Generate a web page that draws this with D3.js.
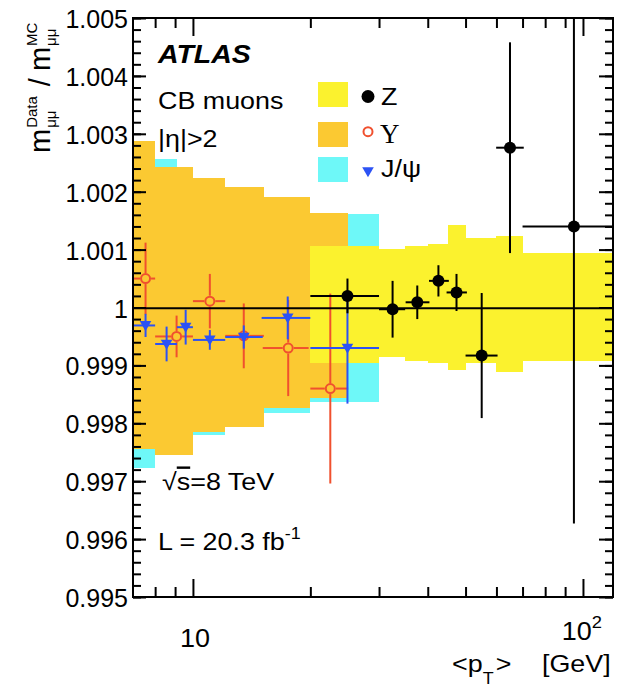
<!DOCTYPE html>
<meta charset="utf-8">
<head>
  <title>Muon mass scale ratio</title>
</head>

<style>
body { margin: 0; background: #fff; }
text { font-family: "Liberation Sans", Arial, sans-serif; fill: #000; }
.band { shape-rendering: crispEdges; }
</style>

<body>
  <svg width="631" height="692"></svg>

  <script src="https://cdnjs.cloudflare.com/ajax/libs/d3/7.8.5/d3.min.js"></script>
  <script>
// bands (systematic), bin edges in GeV
var zEdges = [20, 30, 35, 40, 45, 50, 60, 70, 120]
var zBandLo = [0.99905, 0.99914, 0.99908, 0.99905, 0.99892, 0.99904, 0.99888, 0.99908]
var zBandHi = [1.00107, 1.00101, 1.00107, 1.00110, 1.00143, 1.00120, 1.00124, 1.00094]

var upsEdges = [7, 8, 10, 12.1, 15.2, 20, 25]
var upsBandLo = [0.99755, 0.99745, 0.99785, 0.99794, 0.99826, 0.99843]
var upsBandHi = [1.00288, 1.00243, 1.00223, 1.00208, 1.00191, 1.00163]

var jpsiEdges = [7, 8, 9.1, 10, 12.1, 15.1, 20, 30]
var jpsiBandLo = [0.99722, 0.99754, 0.99763, 0.99779, 0.99806, 0.99817, 0.99836]
var jpsiBandHi = [1.00272, 1.00256, 1.00237, 1.00212, 1.00194, 1.00177, 1.00162]

// data points
var zPt  = [24.9, 32.5, 37.6, 42.6, 47.4, 55.0, 65.0, 94.8]
var zVal = [1.00020, 0.99997, 1.00009, 1.00046, 1.00026, 0.99917, 1.00276, 1.00140]
var zErr = [0.00030, 0.00049, 0.00029, 0.00027, 0.00032, 0.00108, 0.00182, 0.00513]
var zXlo = [20, 30, 35.1, 40.3, 44.7, 50, 59.9, 70]
var zXhi = [30, 35, 40.4, 45.3, 50.4, 60.4, 70.5, 125]

var upsPt  = [7.56, 9.08, 11.05, 13.5, 17.55, 22.5]
var upsVal = [1.00050, 0.99950, 1.00011, 0.99951, 0.99930, 0.99860]
var upsErr = [0.00062, 0.00036, 0.00047, 0.00056, 0.00083, 0.00164]
var upsXlo = [7.0, 8, 10, 12.1, 15.1, 20]
var upsXhi = [8, 10, 12.1, 15.2, 19.8, 25]

var jpsiPt  = [7.56, 8.56, 9.58, 11.05, 13.5, 17.5, 24.9]
var jpsiVal = [0.99969, 0.99937, 0.99966, 0.99944, 0.99949, 0.99982, 0.99930]
var jpsiErr = [0.00020, 0.00030, 0.00030, 0.00017, 0.00020, 0.00037, 0.00096]
var jpsiXlo = [7.0, 8, 9.1, 10, 12.1, 15, 20]
var jpsiXhi = [8, 9.1, 10, 12.1, 15.1, 20, 30]

var yMajor = d3.range(0, 11).map(function(i) { return 0.995 + i * 0.001 })
var yMinor = d3.range(0, 51).map(function(i) { return 0.995 + i * 0.0002 })
var xMajor = [10, 100]
var xMinor = [8, 9, 20, 30, 40, 50, 60, 70, 80, 90]

var colZ = '#fbf22e', colUps = '#fbc932', colJpsi = '#6ef8f8'
var redM = '#f0502e', blueM = '#2c52f4'

var L = 133, R = 613, T = 18, B = 597
var SX = 1.12

var svg = d3.select('svg')
var x = d3.scaleLog().domain([7.02, 119.4]).range([L, R])
var y = d3.scaleLinear().domain([0.995, 1.005]).range([B, T])

svg.append('clipPath').attr('id', 'frame')
  .append('rect').attr('x', L).attr('y', T).attr('width', R - L).attr('height', B - T)

var plot = svg.append('g').attr('clip-path', 'url(#frame)')

function band(edges, lo, hi, color) {
  plot.append('g').selectAll('rect')
    .data(lo)
    .enter().append('rect')
    .attr('class', 'band')
    .attr('x', function(d, i) { return x(edges[i]) })
    .attr('width', function(d, i) { return x(edges[i + 1]) - x(edges[i]) })
    .attr('y', function(d, i) { return y(hi[i]) })
    .attr('height', function(d, i) { return y(lo[i]) - y(hi[i]) })
    .attr('fill', color)
}
band(jpsiEdges, jpsiBandLo, jpsiBandHi, colJpsi)
band(upsEdges, upsBandLo, upsBandHi, colUps)
band(zEdges, zBandLo, zBandHi, colZ)

// error bars, with a gap round open markers
function errors(pt, val, err, xlo, xhi, color, gap) {
  var g = plot.append('g').attr('stroke', color).attr('stroke-width', 2)
  pt.forEach(function(p, i) {
    var cx = x(p), cy = y(val[i])
    var segs = [
      [x(xlo[i]), cy, cx - gap, cy],
      [cx + gap, cy, x(xhi[i]), cy],
      [cx, y(val[i] + err[i]), cx, cy - gap],
      [cx, cy + gap, cx, y(val[i] - err[i])]
    ]
    segs.forEach(function(s) {
      if (Math.abs(s[2] - s[0]) + Math.abs(s[3] - s[1]) > 0.5 &&
          (s[2] >= s[0]) && (s[3] >= s[1]))
        g.append('line').attr('x1', s[0]).attr('y1', s[1]).attr('x2', s[2]).attr('y2', s[3])
    })
  })
  return g
}

var tri = d3.symbol().type(d3.symbolTriangle).size(58)

errors(upsPt, upsVal, upsErr, upsXlo, upsXhi, redM, 5.5)
plot.append('g').selectAll('circle')
  .data(upsPt)
  .enter().append('circle')
  .attr('cx', function(d) { return x(d) })
  .attr('cy', function(d, i) { return y(upsVal[i]) })
  .attr('r', 4.5)
  .attr('fill', 'none')
  .attr('stroke', redM)
  .attr('stroke-width', 2)

errors(jpsiPt, jpsiVal, jpsiErr, jpsiXlo, jpsiXhi, blueM, 0)
plot.append('g').selectAll('path')
  .data(jpsiPt)
  .enter().append('path')
  .attr('d', tri)
  .attr('transform', function(d, i) { return 'translate(' + x(d) + ',' + (y(jpsiVal[i]) - 1) + ') rotate(180)' })
  .attr('fill', blueM)

errors(zPt, zVal, zErr, zXlo, zXhi, '#000', 0)
plot.append('g').selectAll('circle')
  .data(zPt)
  .enter().append('circle')
  .attr('cx', function(d) { return x(d) })
  .attr('cy', function(d, i) { return y(zVal[i]) })
  .attr('r', 6)
  .attr('fill', '#000')

// reference line at 1
plot.append('line')
  .attr('x1', L).attr('x2', R)
  .attr('y1', y(1) + 0.8).attr('y2', y(1) + 0.8)
  .attr('stroke', '#000').attr('stroke-width', 2)

// axes, ticks pointing inwards
function styleAxis(g) {
  g.select('.domain').remove()
  g.selectAll('.tick line').attr('stroke', '#000').attr('stroke-width', 2)
}
var fmt = function(v) { return Math.abs(v - 1) < 1e-9 ? '1' : d3.format('.3f')(v) }

svg.append('g').attr('transform', 'translate(' + L + ',0)')
  .call(d3.axisLeft(y).tickValues(yMinor).tickSize(-8).tickFormat('')).call(styleAxis)
svg.append('g').attr('transform', 'translate(' + L + ',0)')
  .call(d3.axisLeft(y).tickValues(yMajor).tickSize(-13).tickPadding(5).tickFormat(fmt))
  .call(styleAxis)
  .call(function(g) {
    g.selectAll('.tick text')
      .attr('fill', '#000')
      .attr('dy', '0.38em')
      .style('font-size', '25px')
      .style('font-family', '"Liberation Sans", Arial, sans-serif')
  })
svg.append('g').attr('transform', 'translate(' + R + ',0)')
  .call(d3.axisRight(y).tickValues(yMinor).tickSize(-8).tickFormat('')).call(styleAxis)
svg.append('g').attr('transform', 'translate(' + R + ',0)')
  .call(d3.axisRight(y).tickValues(yMajor).tickSize(-14).tickFormat('')).call(styleAxis)

svg.append('g').attr('transform', 'translate(0,' + B + ')')
  .call(d3.axisBottom(x).tickValues(xMinor).tickSize(-10).tickFormat('')).call(styleAxis)
svg.append('g').attr('transform', 'translate(0,' + B + ')')
  .call(d3.axisBottom(x).tickValues(xMajor).tickSize(-18).tickFormat('')).call(styleAxis)
svg.append('g').attr('transform', 'translate(0,' + T + ')')
  .call(d3.axisTop(x).tickValues(xMinor).tickSize(-10).tickFormat('')).call(styleAxis)
svg.append('g').attr('transform', 'translate(0,' + T + ')')
  .call(d3.axisTop(x).tickValues(xMajor).tickSize(-18).tickFormat('')).call(styleAxis)

svg.append('rect')
  .attr('x', L).attr('y', T).attr('width', R - L).attr('height', B - T)
  .attr('fill', 'none').attr('stroke', '#000').attr('stroke-width', 2)

// texts
function label(x0, y0, size, sx) {
  return svg.append('text')
    .attr('transform', 'translate(' + x0 + ',' + y0 + ') scale(' + (sx || SX) + ',1)')
    .style('font-size', size + 'px')
}

label(x(10) + 2, 647, 25, 1.08).attr('text-anchor', 'middle').text('10')
var t100 = label(x(100) - 1, 640, 25, 1.08).attr('text-anchor', 'middle')
t100.append('tspan').text('10')
t100.append('tspan').attr('dy', -12).style('font-size', '17px').text('2')

var xl = label(452, 672, 24)
xl.append('tspan').text('<p')
xl.append('tspan').attr('dy', 12).style('font-size', '16px').text('T')
xl.append('tspan').attr('dy', -12).attr('dx', 2).text('>')
label(542, 672, 24).text('[GeV]')

// y title, rotated, built piece by piece
var yt = svg.append('g').attr('transform', 'translate(50,153) rotate(-90)')
function piece(str, px, py, size) {
  var t = yt.append('text').attr('x', px).attr('y', py).style('font-size', size + 'px').text(str)
  return t.node().getComputedTextLength()
}
var cur = 0
cur += piece('m', cur, 0, 29) + 1
var w1 = piece('Data', cur, -13, 15)
var w2 = piece('μμ', cur, 6, 15)
cur += Math.max(w1, w2) + 3
cur += piece('/', cur + 7, 0, 29) + 14
cur += piece('m', cur, 0, 29) + 1
piece('MC', cur, -13, 15)
piece('μμ', cur, 6, 15)

label(158, 63, 25, 1.14).style('font-weight', 'bold').style('font-style', 'italic').text('ATLAS')
label(158, 109, 24).text('CB muons')
label(158, 147, 24).text('|η|>2')
var rs = label(162, 490, 24)
rs.append('tspan').text('√')
rs.append('tspan').style('text-decoration', 'overline').text('s')
rs.append('tspan').text('=8 TeV')
var lum = label(158, 550, 24)
lum.append('tspan').text('L = 20.3 fb')
lum.append('tspan').attr('dy', -11).style('font-size', '16px').text('-1')

// legend
var legCols = [colZ, colUps, colJpsi]
var legTop = [82, 122, 157]
var legMarkY = [96.5, 131.7, 170.5]
var legBase = [105, 143, 177]
svg.append('g').selectAll('rect')
  .data(legCols)
  .enter().append('rect')
  .attr('x', 318).attr('width', 30)
  .attr('y', function(d, i) { return legTop[i] })
  .attr('height', 25)
  .attr('fill', function(d) { return d })
svg.append('circle').attr('cx', 368).attr('cy', legMarkY[0]).attr('r', 6.5).attr('fill', '#000')
svg.append('circle').attr('cx', 368).attr('cy', legMarkY[1]).attr('r', 4.5)
  .attr('fill', 'none').attr('stroke', redM).attr('stroke-width', 2)
svg.append('path').attr('d', tri)
  .attr('transform', 'translate(368,' + legMarkY[2] + ') rotate(180)').attr('fill', blueM)
label(381, legBase[0], 24).text('Z')
label(380, legBase[1], 27, 1.0).style('font-family', '"Liberation Serif", "Times New Roman", serif').text('Υ')
label(381, legBase[2], 24).text('J/ψ')
  </script>
</body>
</html>
